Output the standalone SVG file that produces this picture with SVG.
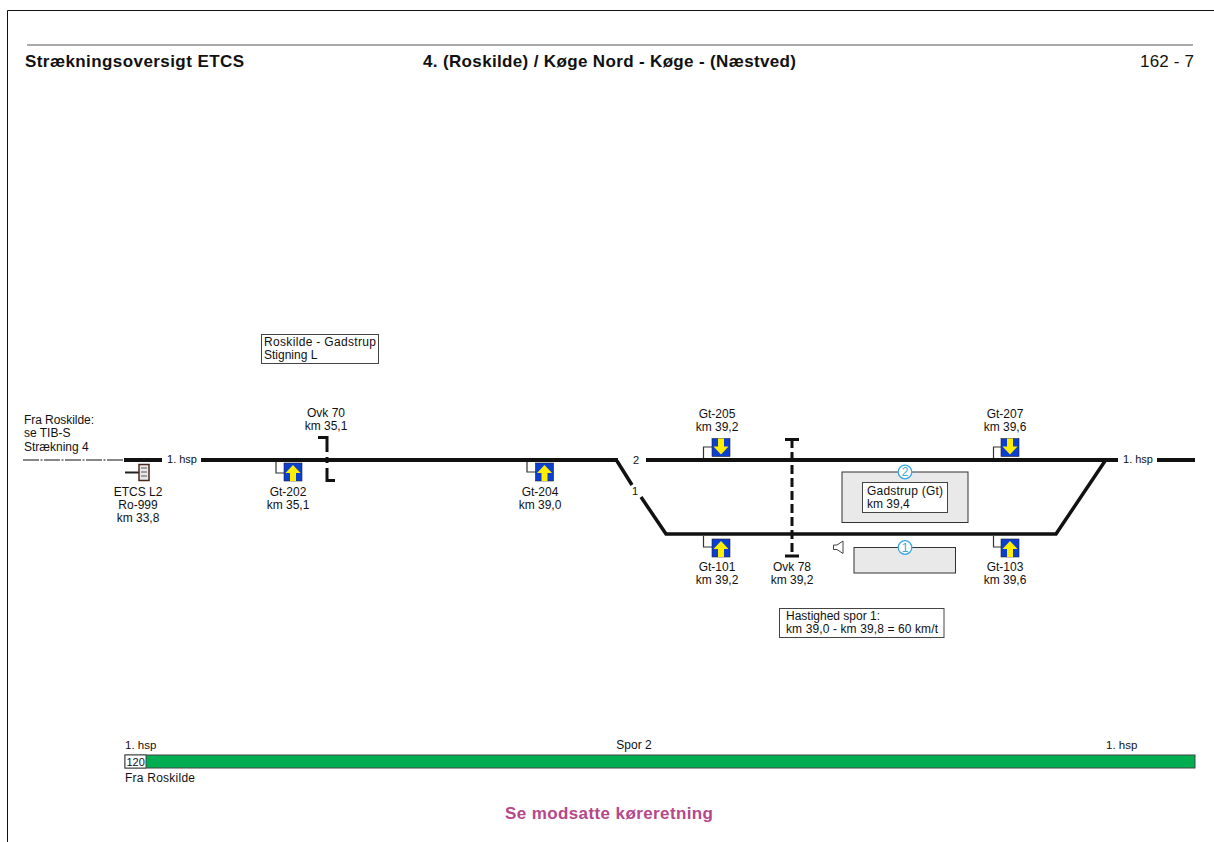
<svg xmlns="http://www.w3.org/2000/svg" width="1214" height="842" viewBox="0 0 1214 842">
<style>
text{font-family:"Liberation Sans",Arial,sans-serif;font-size:12px;fill:#111}
.c{text-anchor:middle}
.s{font-size:11px}
.h{font-size:17px;font-weight:bold}
.tr{fill:none;stroke:#111;stroke-width:4}
.tr2{fill:none;stroke:#111;stroke-width:3.500}
.thin{fill:none;stroke:#333;stroke-width:1.200}
.box{fill:#fff;stroke:#444;stroke-width:1}
.pf{fill:#e9e9e9;stroke:#333;stroke-width:1}
.num{fill:#fff;stroke:#3aa6e2;stroke-width:1.300}
.numt{fill:#3aa6e2;font-size:12px;text-anchor:middle}
.sq{fill:#0a3fd0;stroke:#223;stroke-width:.6}
.ar{fill:#ffee00}
.xing{fill:none;stroke:#111;stroke-width:3}
</style>
<defs>
<g id="up"><rect class="sq" x="0" y="0" width="18" height="18"/><path class="ar" d="M9 2L16.500 10H12V18H6V10H1.500Z"/></g>
<g id="dn"><rect class="sq" x="0" y="0" width="18" height="18"/><path class="ar" d="M9 16L16.500 8H12V0H6V8H1.500Z"/></g>
</defs>
<g id="frame">
<path d="M7.500 842V10.500H1214" fill="none" stroke="#111" stroke-width="1"/>
<path d="M27 45H1193" fill="none" stroke="#555" stroke-width="1"/>
<text class="h" x="25" y="67" textLength="219">Strækningsoversigt ETCS</text>
<text class="h" x="423" y="67" textLength="373">4. (Roskilde) / Køge Nord - Køge - (Næstved)</text>
<text x="1140" y="67" style="font-size:17px" textLength="54">162 - 7</text>
</g>
<g id="connectors">
<path d="M23 460H124" fill="none" stroke="#111" stroke-width="1" stroke-dasharray="16 1.500 2 1.500"/>
<path class="tr" d="M124 460H162M201 460H618M646 460H1118M1157 460H1195"/>
<path class="tr2" d="M617 461L632 485M641 497L666 534H1056L1105 461"/>
<path class="thin" d="M276 462V473H284M527 462V472H536M703.500 458V447H712M703.500 536V547H712M993.500 458V447H1001M993.500 536V547H1001"/>
</g>
<g id="etcs">
<path d="M125 472.500H139" stroke="#222" stroke-width="2" fill="none"/>
<rect x="139" y="464.500" width="10" height="16" fill="#e8e8e8" stroke="#4a2a20" stroke-width="1.500"/>
<path d="M141 468H147M141 472H147M141 476H147" stroke="#888" stroke-width="1.500" fill="none"/>
<text class="c" x="138" y="496">ETCS L2</text>
<text class="c" x="138" y="509">Ro-999</text>
<text class="c" x="138" y="522">km 33,8</text>
</g>
<g id="from-roskilde">
<text x="24" y="424" textLength="70">Fra Roskilde:</text>
<text x="24" y="437">se TIB-S</text>
<text x="24" y="451">Strækning 4</text>
</g>
<g id="labels">
<text class="c s" x="182" y="463">1. hsp</text>
<text class="c s" x="1138" y="463">1. hsp</text>
<text class="c s" x="636" y="464">2</text>
<text class="c s" x="635" y="495">1</text>
</g>
<g id="grade"><rect class="box" x="261.500" y="334.500" width="117" height="29"/>
<text x="264" y="346" textLength="112">Roskilde - Gadstrup</text><text x="264" y="359">Stigning L</text></g>
<g id="ovk70">
<path class="xing" d="M318 437.500H327V452M327 457V463M327 468V480.500H335"/>
<text class="c" x="326" y="417">Ovk 70</text><text class="c" x="326" y="430">km 35,1</text></g>
<g id="ovk78">
<path d="M785 439.500H799M785 556H799" fill="none" stroke="#111" stroke-width="3"/>
<path d="M792 439V556" fill="none" stroke="#111" stroke-width="3" stroke-dasharray="9 4"/>
<text class="c" x="792" y="571">Ovk 78</text><text class="c" x="792" y="584">km 39,2</text></g>
<g id="gt-202"><use href="#up" x="284" y="463"/><text class="c" x="288" y="496">Gt-202</text><text class="c" x="288" y="509">km 35,1</text></g>
<g id="gt-204"><use href="#up" x="535.500" y="463"/><text class="c" x="540" y="496">Gt-204</text><text class="c" x="540" y="509">km 39,0</text></g>
<g id="gt-205"><use href="#dn" x="712" y="438.500"/><text class="c" x="717" y="418">Gt-205</text><text class="c" x="717" y="431">km 39,2</text></g>
<g id="gt-101"><use href="#up" x="712" y="539"/><text class="c" x="717" y="571">Gt-101</text><text class="c" x="717" y="584">km 39,2</text></g>
<g id="gt-207"><use href="#dn" x="1001" y="438.500"/><text class="c" x="1005" y="418">Gt-207</text><text class="c" x="1005" y="431">km 39,6</text></g>
<g id="gt-103"><use href="#up" x="1001" y="539"/><text class="c" x="1005" y="571">Gt-103</text><text class="c" x="1005" y="584">km 39,6</text></g>
<g id="platform-2"><rect class="pf" x="842" y="472" width="126" height="50.500"/>
<rect class="box" x="862.500" y="482.500" width="85" height="30"/>
<text x="867" y="495" textLength="76">Gadstrup (Gt)</text><text x="867" y="508">km 39,4</text>
<circle class="num" cx="905" cy="472" r="6.800"/><text class="numt" x="905" y="476">2</text></g>
<g id="platform-1"><rect class="pf" x="854" y="547.500" width="101.500" height="25.500"/>
<circle class="num" cx="905" cy="547.500" r="6.800"/><text class="numt" x="905" y="552">1</text></g>
<g id="speaker"><path d="M833.500 545H837L843 541V553.500L837 549.500H833.500Z" fill="#fff" stroke="#444" stroke-width="1"/></g>
<g id="speed"><rect class="box" x="779.500" y="608.500" width="164.500" height="29"/>
<text x="786" y="620">Hastighed spor 1:</text><text x="786" y="633" textLength="152">km 39,0 - km 39,8 = 60 km/t</text></g>
<g id="speed-bar">
<text x="125" y="749" style="font-size:11.500px">1. hsp</text><text class="c" x="634" y="749">Spor 2</text><text x="1106" y="749" style="font-size:11.500px">1. hsp</text>
<rect x="125" y="755" width="1070" height="13" fill="#00ad50" stroke="#444" stroke-width="1"/>
<rect x="125" y="755" width="21" height="13" fill="#fff" stroke="#444" stroke-width="1"/>
<text class="s" x="126.500" y="765.500">120</text>
<text x="125" y="782" textLength="70">Fra Roskilde</text>
</g>
<text x="505" y="819" style="font-size:17px;font-weight:bold;fill:#b5478a" textLength="208">Se modsatte køreretning</text>
</svg>
